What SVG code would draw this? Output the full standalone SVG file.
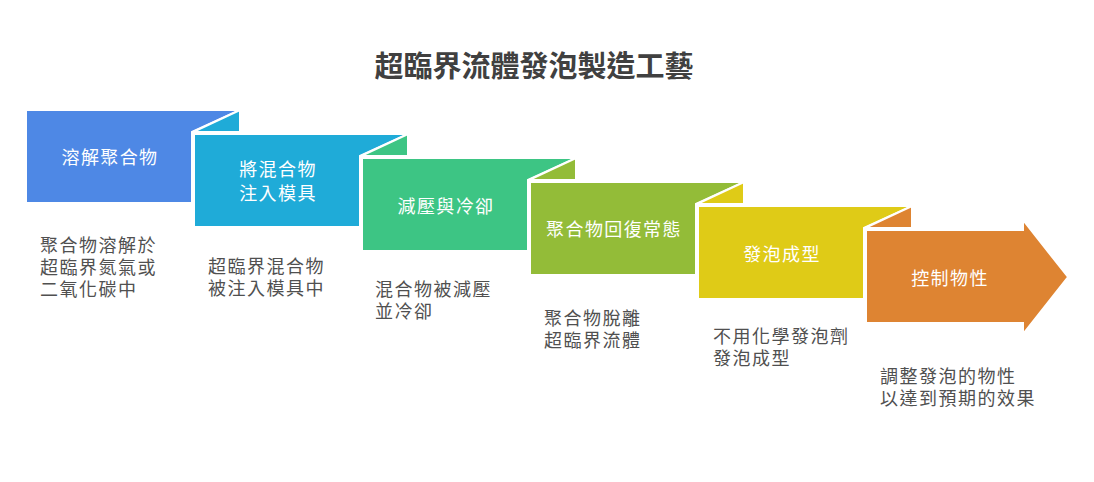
<svg xmlns="http://www.w3.org/2000/svg" width="1094" height="482" viewBox="0 0 1094 482">
  <style>
    .shape { stroke: #ffffff; stroke-width: 2; stroke-linejoin: miter; }
    .lbl { font-family: "Noto Sans CJK TC", "Noto Sans CJK SC", sans-serif; font-size: 18px; letter-spacing: 1.4px; fill: #ffffff; text-anchor: middle; dominant-baseline: central; }
    .desc { font-family: "Noto Sans CJK TC", "Noto Sans CJK SC", sans-serif; font-size: 18px; letter-spacing: 1.5px; fill: #505050; dominant-baseline: central; }
    .title { font-family: "Noto Sans CJK TC", "Noto Sans CJK SC", sans-serif; font-size: 29px; font-weight: bold; fill: #404040; text-anchor: middle; dominant-baseline: central; }
    .c1 { fill: #4E88E5; } .c2 { fill: #1FABD8; } .c3 { fill: #3DC584; }
    .c4 { fill: #93BC38; } .c5 { fill: #DFCB17; } .c6 { fill: #DE8432; }
  </style>
  <rect width="1094" height="482" fill="#ffffff"/>
  <text class="title" x="534" y="64">超臨界流體發泡製造工藝</text>

  <g id="step1">
    <path class="shape c1" d="M26,110 H240 L192,132 V203 H26 Z"/>
    <text class="lbl" x="110" y="156">溶解聚合物</text>
    <text class="desc"><tspan x="40" y="244">聚合物溶解於</tspan><tspan x="40" y="266">超臨界氮氣或</tspan><tspan x="40" y="288">二氧化碳中</tspan></text>
  </g>
  <g id="step2">
    <path class="shape c2" d="M193,132 L240,110 V132 Z"/>
    <path class="shape c2" d="M194,134 H408 L360,156 V227 H194 Z"/>
    <text class="lbl"><tspan x="278" y="168">將混合物</tspan><tspan x="278" y="192">注入模具</tspan></text>
    <text class="desc"><tspan x="208" y="265">超臨界混合物</tspan><tspan x="208" y="287">被注入模具中</tspan></text>
  </g>
  <g id="step3">
    <path class="shape c3" d="M361,156 L408,134 V156 Z"/>
    <path class="shape c3" d="M362,158 H576 L528,180 V251 H362 Z"/>
    <text class="lbl" x="446" y="205">減壓與冷卻</text>
    <text class="desc"><tspan x="375" y="288">混合物被減壓</tspan><tspan x="375" y="310">並冷卻</tspan></text>
  </g>
  <g id="step4">
    <path class="shape c4" d="M529,180 L576,158 V180 Z"/>
    <path class="shape c4" d="M530,182 H744 L696,204 V275 H530 Z"/>
    <text class="lbl" x="614" y="228">聚合物回復常態</text>
    <text class="desc"><tspan x="544" y="317">聚合物脫離</tspan><tspan x="544" y="339">超臨界流體</tspan></text>
  </g>
  <g id="step5">
    <path class="shape c5" d="M697,204 L744,182 V204 Z"/>
    <path class="shape c5" d="M698,206 H912 L864,228 V299 H698 Z"/>
    <text class="lbl" x="782" y="253">發泡成型</text>
    <text class="desc"><tspan x="713" y="335">不用化學發泡劑</tspan><tspan x="713" y="357">發泡成型</tspan></text>
  </g>
  <g id="step6">
    <path class="shape c6" d="M865,228 L912,206 V228 Z"/>
    <path class="shape c6" d="M866,230 H1023 V220 L1068,277 L1023,334 V323 H866 Z"/>
    <text class="lbl" x="950" y="277">控制物性</text>
    <text class="desc"><tspan x="880" y="375">調整發泡的物性</tspan><tspan x="880" y="397">以達到預期的效果</tspan></text>
  </g>
  <g id="connectors"></g>
</svg>
